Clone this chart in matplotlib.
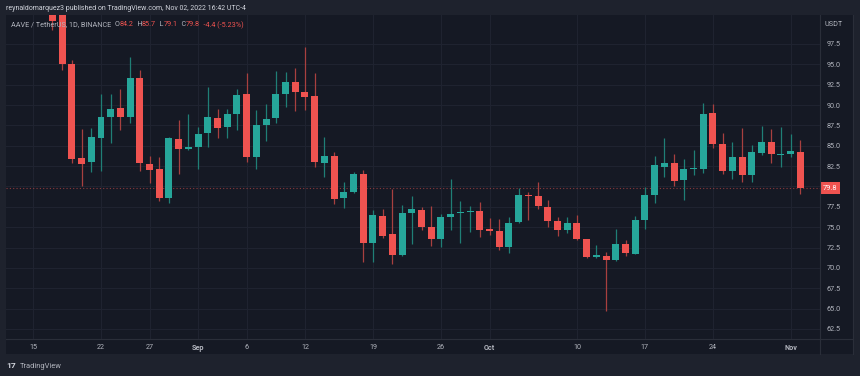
import matplotlib
matplotlib.use("Agg")
import matplotlib.pyplot as plt
import matplotlib.dates as mdates
import matplotlib.transforms as mtransforms
from matplotlib.lines import Line2D
from matplotlib.patches import Rectangle
import numpy as np
import pandas as pd

# ---------------- data ----------------
dates = pd.date_range("2022-08-17", "2022-11-02", freq="D")
opens = [102.0, 101.5, 95.0, 83.46, 82.97, 85.96, 88.54, 89.6, 88.57, 93.29,
         82.76, 82.19, 78.63, 85.8, 84.57, 84.81, 86.57, 88.41, 87.27, 88.94,
         91.32, 83.66, 87.55, 88.37, 91.32, 92.8, 91.6, 91.11, 82.92, 83.78,
         78.63, 79.36, 81.5, 73.1, 76.34, 74.13, 71.59, 76.71, 77.08, 74.99,
         73.6, 76.22, 76.75, 76.87, 77.03, 74.74, 74.57, 72.6, 75.64, 78.95,
         78.83, 77.44, 75.76, 74.66, 75.52, 73.55, 71.38, 71.5, 71.01, 72.94,
         71.75, 75.89, 78.95, 82.44, 82.85, 80.8, 82.11, 82.11, 89.03, 85.22,
         81.94, 83.58, 81.41, 84.15, 85.5, 83.9, 83.99, 84.2]
highs = [102.5, 102.0, 95.5, 87.0, 87.2, 91.36, 91.36, 91.97, 95.86, 94.3,
         83.78, 83.66, 86.1, 88.17, 88.9, 87.27, 92.18, 89.52, 89.52, 91.93,
         93.9, 89.4, 90.1, 94.22, 94.1, 94.6, 97.17, 93.9, 86.1, 84.27,
         80.6, 81.8, 82.03, 77.11, 77.24, 79.69, 77.73, 78.83, 77.52, 77.64,
         76.62, 80.92, 78.22, 77.6, 78.06, 76.17, 75.97, 76.22, 79.85, 79.29,
         80.52, 78.34, 76.22, 76.22, 76.5, 73.6, 72.8, 71.99, 74.78, 73.43,
         76.42, 79.9, 83.78, 85.92, 83.99, 83.38, 84.48, 90.22, 90.13, 86.53,
         85.43, 87.22, 85.1, 87.47, 87.0, 87.35, 86.4, 85.7]
lows = [99.2, 94.3, 82.85, 80.0, 81.8, 81.94, 85.3, 86.94, 87.83, 81.94,
        80.47, 78.26, 78.0, 81.5, 84.5, 82.1, 84.9, 85.92, 86.0, 86.94,
        83.05, 82.1, 85.6, 87.76, 89.8, 89.3, 89.4, 82.35, 81.2, 77.8,
        77.32, 79.17, 70.77, 70.77, 73.71, 70.45, 71.47, 72.9, 74.66, 72.69,
        72.6, 74.66, 73.1, 74.45, 73.76, 74.04, 72.2, 71.87, 75.56, 75.89,
        77.24, 75.07, 73.96, 74.25, 73.43, 71.18, 71.18, 64.71, 70.85, 71.47,
        71.67, 74.74, 78.0, 81.2, 80.06, 78.34, 81.41, 81.62, 84.69, 81.53,
        80.88, 80.6, 80.6, 83.87, 82.85, 82.44, 83.58, 79.1]
closes = [100.3, 95.0, 83.4, 82.8, 86.08, 88.5, 89.52, 88.54, 93.29, 82.85,
          82.03, 78.63, 85.92, 84.57, 84.9, 86.48, 88.5, 87.18, 88.87, 91.24,
          83.66, 87.55, 88.29, 91.32, 92.8, 91.65, 90.95, 83.0, 83.78, 78.5,
          79.36, 81.5, 73.02, 76.46, 73.96, 71.59, 76.75, 77.2, 75.03, 73.6,
          76.22, 76.62, 76.9, 77.03, 74.66, 74.54, 72.6, 75.56, 78.95, 78.8,
          77.57, 75.8, 74.66, 75.52, 73.6, 71.38, 71.63, 71.01, 72.94, 71.87,
          75.89, 78.95, 82.6, 82.85, 80.71, 82.19, 82.31, 88.9, 85.18, 81.94,
          83.58, 81.41, 84.2, 85.5, 83.95, 84.03, 84.32, 79.8]

tick_dates = ["2022-08-15", "2022-08-22", "2022-08-27", "2022-09-01", "2022-09-06",
              "2022-09-12", "2022-09-19", "2022-09-26", "2022-10-01", "2022-10-10",
              "2022-10-17", "2022-10-24", "2022-11-01"]
tick_labels = ["15", "22", "27", "Sep", "6", "12", "19", "26", "Oct", "10", "17", "24", "Nov"]
price_ticks = [62.5, 65.0, 67.5, 70.0, 72.5, 75.0, 77.5, 80.0, 82.5, 85.0, 87.5, 90.0, 92.5, 95.0, 97.5]
last_price = 79.8

header = "reynaldomarquez3 published on TradingView.com, Nov 02, 2022 16:42 UTC-4"
legend_parts = [("AAVE / TetherUS, 1D, BINANCE  ", "grey"), ("O", "grey"), ("84.2", "red"),
                ("  H", "grey"), ("85.7", "red"), ("  L", "grey"), ("79.1", "red"),
                ("  C", "grey"), ("79.8", "red"), ("  -4.4 (-5.23%)", "red")]

# ---------------- style ----------------
W, H = 860, 376
OUTER = "#1e222d"
PANE = "#151924"
GRID = "#1f2330"
SEP = "#2a2e39"
UP = "#26a69a"
DOWN = "#ef5350"
UPW = "#1f7f76"
DOWNW = "#a8403f"
TXT = "#b2b5be"
FONT = ["Roboto", "DejaVu Sans"]
plt.rcParams["font.family"] = FONT


def fx(px):
    return px / W


def fy(py):
    return 1 - py / H


fig = plt.figure(figsize=(8.6, 3.76), dpi=100, facecolor=OUTER)
bg = Rectangle((fx(6), fy(354)), fx(853) - fx(6), fy(15) - fy(354),
               transform=fig.transFigure, fc=PANE, ec="none", zorder=-10)
fig.add_artist(bg)

ax = fig.add_axes([fx(6), fy(339), fx(820) - fx(6), fy(15) - fy(339)])
ax.set_zorder(1)
ax.set_facecolor(PANE)

x = mdates.date2num(dates)
o = np.array(opens); h = np.array(highs); l = np.array(lows); c = np.array(closes)
up = c >= o
body_col = np.where(up, UP, DOWN)
wick_col = np.where(up, UPW, DOWNW)

ax.vlines(x, l, h, colors=wick_col, lw=0.9, zorder=3)
bh = np.abs(c - o)
bb = np.minimum(o, c)
minh = 0.14
bb = np.where(bh < minh, (o + c) / 2 - minh / 2, bb)
bh = np.maximum(bh, minh)
ax.bar(x, bh, bottom=bb, width=0.72, color=body_col, lw=0, zorder=4)

base = mdates.date2num(pd.Timestamp("2022-08-15"))
ax.set_xlim(base - 2.78, base + 81.02)
ax.set_ylim(61.27, 101.06)

# grid & ticks
xt = mdates.date2num(pd.to_datetime(tick_dates))
ax.set_xticks(xt)
ax.set_xticklabels(tick_labels)
for lab, s in zip(ax.get_xticklabels(), tick_labels):
    if s in ("Sep", "Oct", "Nov"):
        lab.set_fontweight("bold")
        lab.set_color("#d1d4dc")
ax.set_yticks(price_ticks)
ax.set_yticklabels(["" if abs(v - last_price) < 1.0 else f"{v:.1f}" for v in price_ticks])
ax.yaxis.tick_right()
ax.tick_params(axis="y", length=0, pad=4.5, labelsize=5.2, colors=TXT)
ax.tick_params(axis="x", length=0, pad=3.6, labelsize=5.2, colors=TXT)
ax.grid(True, color=GRID, lw=0.8, zorder=0)
ax.set_axisbelow(True)
for s in ax.spines.values():
    s.set_visible(False)

# price line and label
ax.axhline(last_price, color=DOWN, lw=0.8, ls=(0, (1, 2)), alpha=0.55, zorder=2)
trans = mtransforms.blended_transform_factory(ax.transAxes, ax.transData)
ax.text(1 + 2.5 / 814, last_price, f"{last_price:.1f}", transform=trans, ha="left", va="center",
        fontsize=5.4, color="#ffffff", zorder=10, clip_on=False,
        bbox=dict(boxstyle="square,pad=0.35", fc=DOWN, ec="none"))

# separators
for xs, ys in [([820, 820], [15, 354]), ([6, 853], [339, 339]), ([853, 853], [15, 354])]:
    fig.add_artist(Line2D([fx(v) for v in xs], [fy(v) for v in ys], color=SEP, lw=0.8,
                          transform=fig.transFigure, zorder=5))

# texts
fig.text(fx(834), fy(24), "USDT", ha="center", va="center", fontsize=5.2, color=TXT, zorder=20)
fig.text(fx(6), fy(8.5), header, ha="left", va="center", fontsize=5.0, color="#d1d4dc", zorder=20)
fig.text(fx(6), fy(366), "17", ha="left", va="center", fontsize=6.0, color="#d1d4dc",
         fontweight="bold", zorder=20)
fig.text(fx(20), fy(366), "TradingView", ha="left", va="center", fontsize=5.4, color="#b2b5be", zorder=20)

renderer = fig.canvas.get_renderer()
cx = fx(11)
colmap = {"grey": TXT, "red": DOWN}
for s, cname in legend_parts:
    t = fig.text(cx, fy(25), s, ha="left", va="center", fontsize=5.2, color=colmap[cname], zorder=20)
    ext = t.get_window_extent(renderer)
    cx = fig.transFigure.inverted().transform((ext.x1, ext.y0))[0]

fig.savefig("out.png", dpi=100, facecolor=OUTER)
